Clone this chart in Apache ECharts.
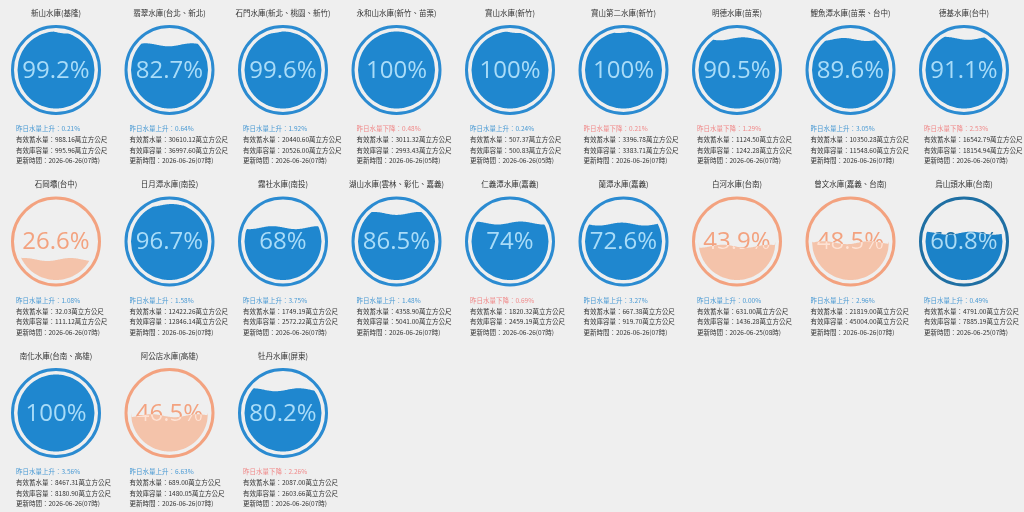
<!DOCTYPE html>
<html><head><meta charset="utf-8">
<script src="https://cdn.jsdelivr.net/npm/echarts@6/dist/echarts.min.js"></script>
<style>html,body{margin:0;padding:0;background:#efefef}#c{width:1024px;height:512px}</style>
</head><body><div id="c"></div>
<script>
const names = ['新山水庫(基隆)','翡翠水庫(台北、新北)','石門水庫(新北、桃園、新竹)','永和山水庫(新竹、苗栗)','寶山水庫(新竹)','寶山第二水庫(新竹)','明德水庫(苗栗)','鯉魚潭水庫(苗栗、台中)','德基水庫(台中)',
  '石岡壩(台中)','日月潭水庫(南投)','霧社水庫(南投)','湖山水庫(雲林、彰化、嘉義)','仁義潭水庫(嘉義)','蘭潭水庫(嘉義)','白河水庫(台南)','曾文水庫(嘉義、台南)','烏山頭水庫(台南)',
  '南化水庫(台南、高雄)','阿公店水庫(高雄)','牡丹水庫(屏東)'];
const percents = [99.2, 82.7, 99.6, 100, 100, 100, 90.5, 89.6, 91.1,
  26.6, 96.7, 68, 86.5, 74, 72.6, 43.9, 48.5, 60.8,
  100, 46.5, 80.2];
const changes = [0.21, 0.64, 1.92, -0.48, 0.24, -0.21, -1.29, 3.05, -2.53,
  1.08, 1.58, 3.75, 1.48, -0.69, 3.27, 0.00, 2.96, 0.49,
  3.56, 6.63, -2.26];
const stored = ['988.16','30610.12','20440.60','3011.32','507.37','3396.78','1124.50','10350.28','16542.79',
  '32.03','12422.26','1749.19','4358.90','1820.32','667.38','631.00','21819.00','4791.00',
  '8467.31','689.00','2087.00'];
const capacity = ['995.96','36997.60','20526.00','2993.43','500.83','3383.71','1242.28','11548.60','18154.94',
  '111.12','12846.14','2572.22','5041.00','2459.19','919.70','1436.28','45004.00','7885.19',
  '8180.90','1480.05','2603.66'];
const updated = ['2026-06-26(07時)','2026-06-26(07時)','2026-06-26(07時)','2026-06-26(05時)','2026-06-26(05時)','2026-06-26(07時)','2026-06-26(07時)','2026-06-26(07時)','2026-06-26(07時)',
  '2026-06-26(07時)','2026-06-26(07時)','2026-06-26(07時)','2026-06-26(07時)','2026-06-26(07時)','2026-06-26(07時)','2026-06-25(08時)','2026-06-26(07時)','2026-06-25(07時)',
  '2026-06-26(07時)','2026-06-26(07時)','2026-06-26(07時)'];

const SCHEMES = {
  blue:   {ring:'#2b8bd1', water:'#1f87cf', out:'#1f87cf', inn:'#a9dcf8'},
  dark:   {ring:'#1f6fa3', water:'#1b82c8', out:'#1f6fa3', inn:'#a9dcf8'},
  orange: {ring:'#f3a27f', water:'#f4c3aa', out:'#f3a27f', inn:'#fde2d4'}
};
const CJK = '"Noto Sans CJK TC","Noto Sans CJK SC",sans-serif';

function renderItem(params, api) {
  const i = api.value(2);
  const v = api.value(1);
  const c = api.coord([0.5, 50]);
  const cx = c[0], cy = c[1];
  const yTop = api.coord([0.5, 100])[1], yBot = api.coord([0.5, 0])[1];
  const ri = (yBot - yTop) / 2;
  const wl = api.coord([0.5, Math.min(v, 100)])[1];
  const s = v < 50 ? SCHEMES.orange : (v < 65 ? SCHEMES.dark : SCHEMES.blue);
  const amp = 1.5, wlen = ri * 1.2, phase = i * 1.7, N = 90;
  const topPts = [], botPts = [];
  for (let k = 0; k <= N; k++) {
    const x = cx - ri + 2 * ri * k / N;
    const dx = x - cx;
    const h = Math.sqrt(Math.max(0, ri * ri - dx * dx));
    const w = wl + amp * Math.sin(2 * Math.PI * dx / wlen + phase);
    let yt = Math.max(w, cy - h);
    const yb = cy + h;
    if (yt > yb) yt = yb;
    topPts.push([x, yt]);
    botPts.unshift([x, yb]);
  }
  const poly = topPts.concat(botPts);
  const label = v + '%';
  const pctFont = 'normal 24px "Open Sans"';
  const up = changes[i] >= 0;
  const chText = (up ? '昨日水量上升：' : '昨日水量下降：') + Math.abs(changes[i]).toFixed(2) + '%';
  const lines = [
    [chText, up ? '#4a9ad4' : '#f08a8a'],
    ['有效蓄水量：' + stored[i] + '萬立方公尺', '#333'],
    ['有效庫容量：' + capacity[i] + '萬立方公尺', '#333'],
    ['更新時間：' + updated[i], '#333']
  ];
  const children = [
    {type:'circle', shape:{cx:cx, cy:cy, r:ri + 5}, style:{fill:'none', stroke:s.ring, lineWidth:3}},
    {type:'polygon', shape:{points:poly}, style:{fill:s.water}},
    {type:'text', style:{x:cx, y:cy + 1, text:label, font:pctFont, fill:s.out, align:'center', verticalAlign:'middle'}},
    {type:'text', clipPath:{type:'polygon', shape:{points:poly}},
      style:{x:cx, y:cy + 1, text:label, font:pctFont, fill:s.inn, align:'center', verticalAlign:'middle'}},
    {type:'text', style:{x:cx, y:cy - 57, text:names[i], font:'normal 7.5px ' + CJK, fill:'#333', align:'center', verticalAlign:'middle'}}
  ];
  lines.forEach((l, k) => {
    children.push({type:'text', style:{x:cx - 40, y:cy + 59 + k * 10.6, text:l[0], font:'normal 6.5px ' + CJK, fill:l[1], align:'left', verticalAlign:'middle'}});
  });
  return {type:'group', children:children};
}

const RI = 38.5;
const grids = [], xAxes = [], yAxes = [], series = [];
names.forEach((n, i) => {
  const col = i % 9, row = Math.floor(i / 9);
  const cx = 56 + 113.5 * col, cy = 70 + 171.5 * row;
  grids.push({left:cx - RI, top:cy - RI, width:2 * RI, height:2 * RI, containLabel:false, show:false});
  xAxes.push({gridIndex:i, type:'value', min:0, max:1, show:false});
  yAxes.push({gridIndex:i, type:'value', min:0, max:100, show:false});
  series.push({type:'custom', xAxisIndex:i, yAxisIndex:i, clip:false, silent:true,
    data:[[0.5, percents[i], i]], renderItem:renderItem});
});

const chart = echarts.init(document.getElementById('c'));
chart.setOption({
  backgroundColor:'#efefef',
  animation:false,
  grid:grids, xAxis:xAxes, yAxis:yAxes, series:series
});
</script></body></html>
